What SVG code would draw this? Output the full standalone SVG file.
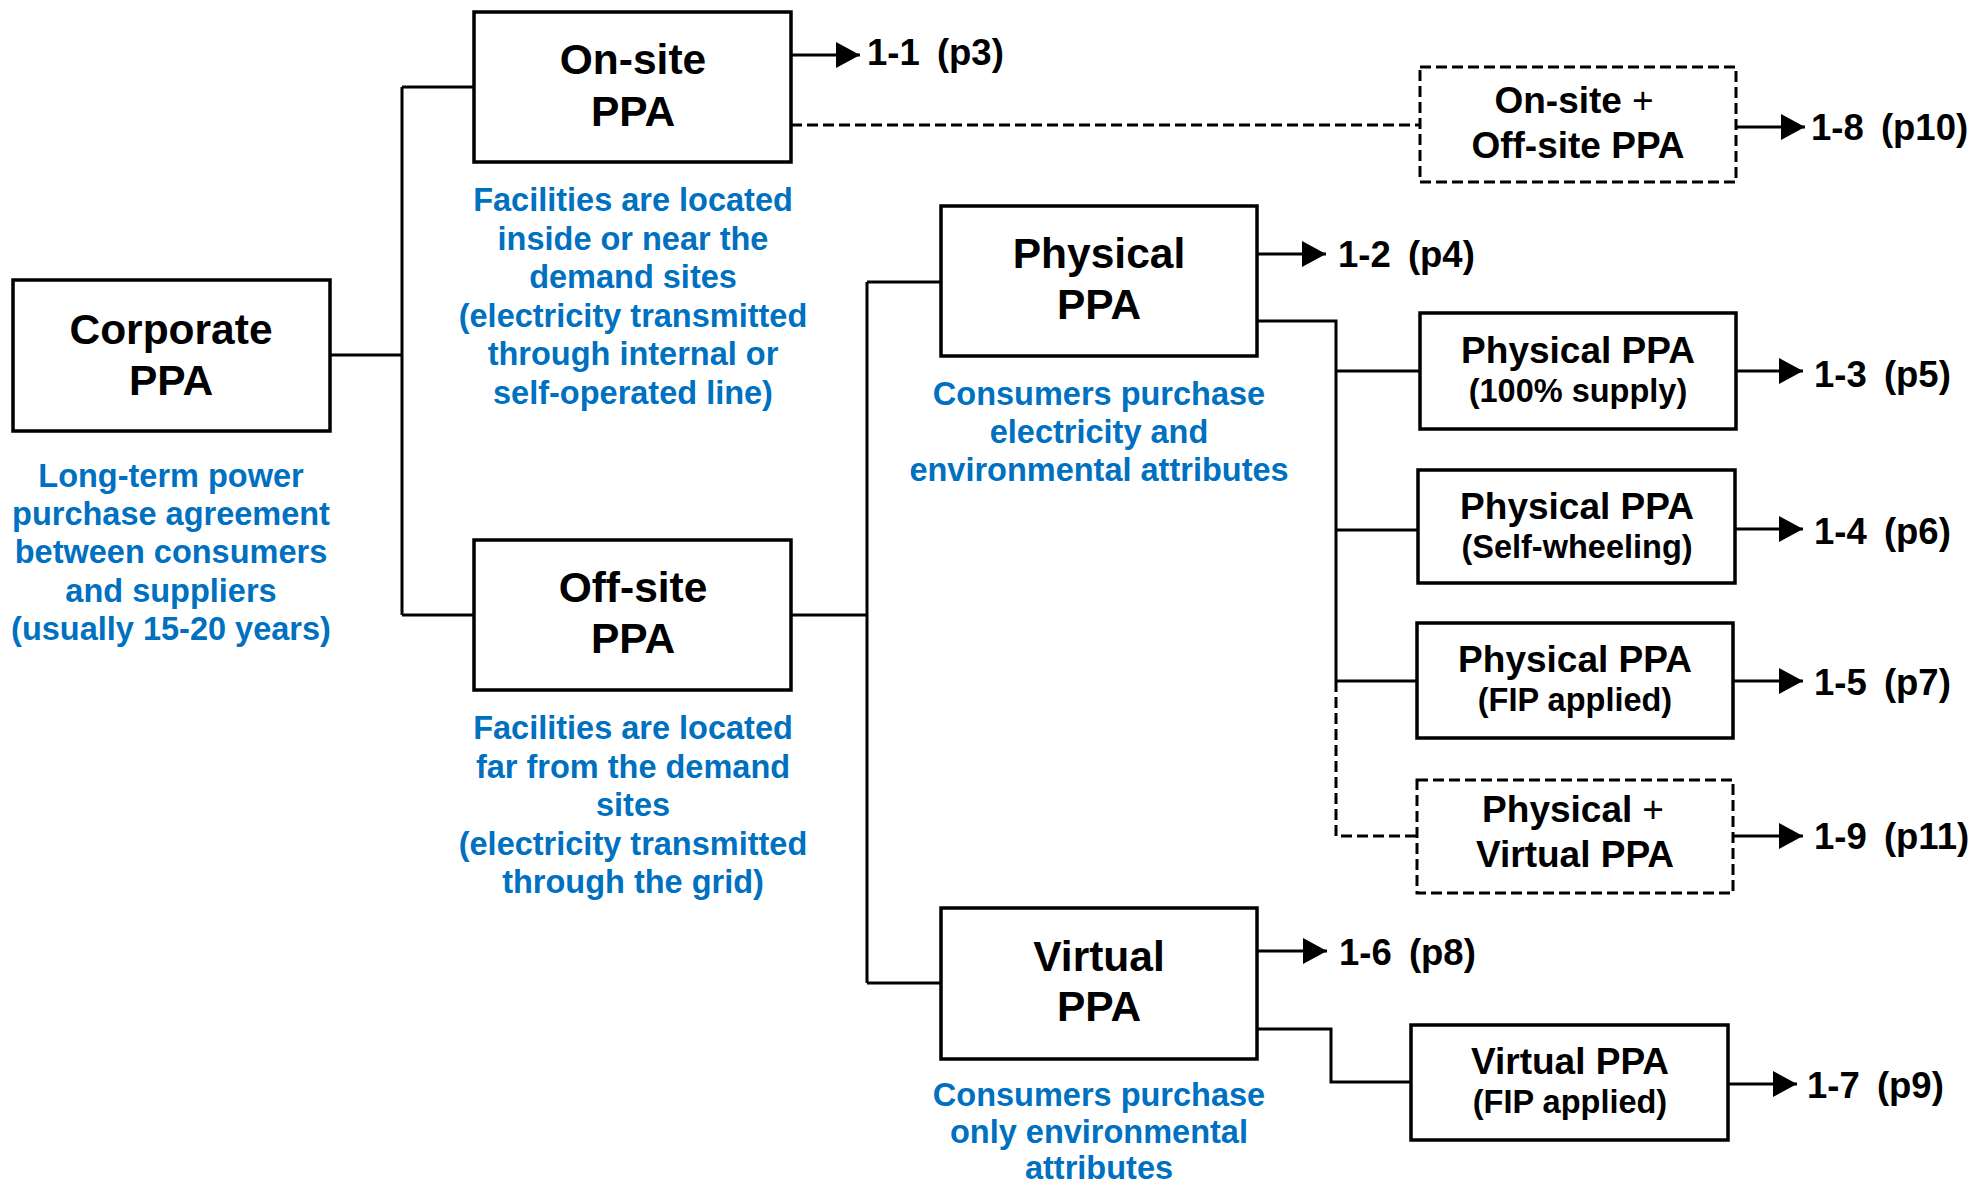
<svg xmlns="http://www.w3.org/2000/svg" width="1981" height="1186" viewBox="0 0 1981 1186">
<style>
.box{fill:#fff;stroke:#000;stroke-width:3.5}
.dbox{fill:#fff;stroke:#000;stroke-width:3;stroke-dasharray:11 5}
.ln{fill:none;stroke:#000;stroke-width:3}
.dln{fill:none;stroke:#000;stroke-width:3;stroke-dasharray:11 5}
text{font-family:"Liberation Sans",Arial,sans-serif;text-anchor:middle;font-weight:700}
.big{font-size:42.5px;fill:#000}
.mid{font-size:37px;fill:#000}
.sub{font-size:32.5px;fill:#000}
.ref{font-size:36.5px;fill:#000;text-anchor:start;word-spacing:7px}
.desc{font-size:32.5px;fill:#0070C0}
.plus{font-weight:400}
</style>
<defs>
<marker id="ah" viewBox="0 0 24 26" refX="24" refY="13" markerWidth="24" markerHeight="26" markerUnits="userSpaceOnUse" orient="auto">
<path d="M0,0 L24,13 L0,26 Z" fill="#000"/>
</marker>
</defs>
<g id="connectors">
<path class="ln" d="M330,355 H402 M402,87 V615 M402,87 H474 M402,615 H474"/>
<path class="ln" d="M791,615 H867 M867,282 V983 M867,282 H941 M867,983 H941"/>
<path class="ln" d="M1257,321 H1336 V681 M1336,371 H1420 M1336,530 H1418 M1336,681 H1417"/>
<path class="dln" d="M1336,681 V836 H1417"/>
<path class="ln" d="M1257,1029 H1331 V1082 H1411"/>
<path class="dln" d="M791,125 H1419"/>
<line class="ln" x1="791" y1="55" x2="860" y2="55" marker-end="url(#ah)"/>
<line class="ln" x1="1736" y1="127" x2="1805" y2="127" marker-end="url(#ah)"/>
<line class="ln" x1="1257" y1="254" x2="1326" y2="254" marker-end="url(#ah)"/>
<line class="ln" x1="1736" y1="371" x2="1803" y2="371" marker-end="url(#ah)"/>
<line class="ln" x1="1735" y1="529" x2="1803" y2="529" marker-end="url(#ah)"/>
<line class="ln" x1="1733" y1="681" x2="1803" y2="681" marker-end="url(#ah)"/>
<line class="ln" x1="1733" y1="836" x2="1803" y2="836" marker-end="url(#ah)"/>
<line class="ln" x1="1257" y1="951" x2="1327" y2="951" marker-end="url(#ah)"/>
<line class="ln" x1="1728" y1="1084" x2="1797" y2="1084" marker-end="url(#ah)"/>
</g>
<g id="ref-labels">
<text class="ref" x="867" y="65">1-1 (p3)</text>
<text class="ref" x="1811" y="140">1-8 (p10)</text>
<text class="ref" x="1338" y="267">1-2 (p4)</text>
<text class="ref" x="1814" y="387">1-3 (p5)</text>
<text class="ref" x="1814" y="544">1-4 (p6)</text>
<text class="ref" x="1814" y="695">1-5 (p7)</text>
<text class="ref" x="1814" y="849">1-9 (p11)</text>
<text class="ref" x="1339" y="965">1-6 (p8)</text>
<text class="ref" x="1807" y="1098">1-7 (p9)</text>
</g>
<g id="corporate">
<rect class="box" x="13" y="280" width="317" height="151"/>
<text class="big" x="171" y="344">Corporate</text>
<text class="big" x="171" y="395">PPA</text>
<text class="desc"><tspan x="171" y="487">Long-term power</tspan><tspan x="171" y="525">purchase agreement</tspan><tspan x="171" y="563">between consumers</tspan><tspan x="171" y="602">and suppliers</tspan><tspan x="171" y="640">(usually 15-20 years)</tspan></text>
</g>
<g id="onsite">
<rect class="box" x="474" y="12" width="317" height="150"/>
<text class="big" x="633" y="74">On-site</text>
<text class="big" x="633" y="126">PPA</text>
<text class="desc"><tspan x="633" y="211">Facilities are located</tspan><tspan x="633" y="250">inside or near the</tspan><tspan x="633" y="288">demand sites</tspan><tspan x="633" y="327">(electricity transmitted</tspan><tspan x="633" y="365">through internal or</tspan><tspan x="633" y="404">self-operated line)</tspan></text>
</g>
<g id="offsite">
<rect class="box" x="474" y="540" width="317" height="150"/>
<text class="big" x="633" y="602">Off-site</text>
<text class="big" x="633" y="653">PPA</text>
<text class="desc"><tspan x="633" y="739">Facilities are located</tspan><tspan x="633" y="778">far from the demand</tspan><tspan x="633" y="816">sites</tspan><tspan x="633" y="855">(electricity transmitted</tspan><tspan x="633" y="893">through the grid)</tspan></text>
</g>
<g id="physical">
<rect class="box" x="941" y="206" width="316" height="150"/>
<text class="big" x="1099" y="268">Physical</text>
<text class="big" x="1099" y="319">PPA</text>
<text class="desc"><tspan x="1099" y="405">Consumers purchase</tspan><tspan x="1099" y="443">electricity and</tspan><tspan x="1099" y="481">environmental attributes</tspan></text>
</g>
<g id="virtual">
<rect class="box" x="941" y="908" width="316" height="151"/>
<text class="big" x="1099" y="971">Virtual</text>
<text class="big" x="1099" y="1021">PPA</text>
<text class="desc"><tspan x="1099" y="1106">Consumers purchase</tspan><tspan x="1099" y="1143">only environmental</tspan><tspan x="1099" y="1179">attributes</tspan></text>
</g>
<g id="onsite-offsite">
<rect class="dbox" x="1420" y="67" width="316" height="115"/>
<text class="mid" x="1574" y="113">On-site<tspan class="plus" dx="10">+</tspan></text>
<text class="mid" x="1578" y="158">Off-site PPA</text>
</g>
<g id="physical-100">
<rect class="box" x="1420" y="313" width="316" height="116"/>
<text class="mid" x="1578" y="363">Physical PPA</text>
<text class="sub" x="1578" y="402">(100% supply)</text>
</g>
<g id="physical-self">
<rect class="box" x="1418" y="470" width="317" height="113"/>
<text class="mid" x="1577" y="519">Physical PPA</text>
<text class="sub" x="1577" y="558">(Self-wheeling)</text>
</g>
<g id="physical-fip">
<rect class="box" x="1417" y="623" width="316" height="115"/>
<text class="mid" x="1575" y="672">Physical PPA</text>
<text class="sub" x="1575" y="711">(FIP applied)</text>
</g>
<g id="physical-virtual">
<rect class="dbox" x="1417" y="780" width="316" height="113"/>
<text class="mid" x="1573" y="822">Physical<tspan class="plus" dx="10">+</tspan></text>
<text class="mid" x="1575" y="867">Virtual PPA</text>
</g>
<g id="virtual-fip">
<rect class="box" x="1411" y="1025" width="317" height="115"/>
<text class="mid" x="1570" y="1074">Virtual PPA</text>
<text class="sub" x="1570" y="1113">(FIP applied)</text>
</g>
</svg>
